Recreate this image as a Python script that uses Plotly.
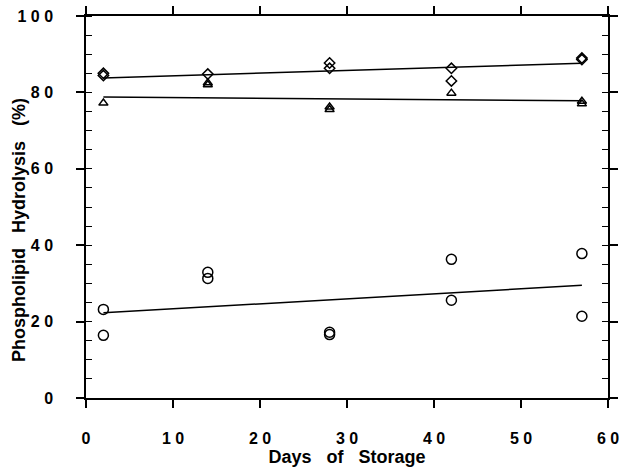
import plotly.graph_objects as go

# Data
days_diamond = [2, 2, 14, 28, 28, 42, 42, 57, 57]
val_diamond = [85.0, 84.4, 84.8, 87.7, 86.3, 86.3, 83.0, 89.0, 88.6]

days_triangle = [2, 14, 14, 28, 28, 42, 57, 57]
val_triangle = [77.2, 82.5, 82.0, 76.2, 75.5, 79.8, 77.7, 77.0]

days_circle = [2, 2, 14, 14, 28, 28, 42, 42, 57, 57]
val_circle = [23.2, 16.4, 32.9, 31.3, 17.2, 16.6, 36.3, 25.6, 37.8, 21.4]

# Regression lines as drawn (values at day 2 and day 57)
fit_days = [2, 57]
fit_diamond = [83.8, 87.6]
fit_triangle = [78.8, 77.8]
fit_circle = [22.3, 29.5]

x_ticks = [0, 10, 20, 30, 40, 50, 60]
x_labels = ["0", "1 0", "2 0", "3 0", "4 0", "5 0", "6 0"]
y_ticks = [0, 20, 40, 60, 80, 100]
y_labels = ["0", "2 0", "4 0", "6 0", "8 0", "1 0 0"]

fig = go.Figure()

for xs, ys, fy, sym, size in [
    (days_diamond, val_diamond, fit_diamond, "diamond-open", 8),
    (days_triangle, val_triangle, fit_triangle, "triangle-up-open", 8),
    (days_circle, val_circle, fit_circle, "circle-open", 10),
]:
    fig.add_trace(go.Scatter(x=fit_days, y=fy, mode="lines",
                             line=dict(color="black", width=1.5),
                             showlegend=False, hoverinfo="skip"))
    fig.add_trace(go.Scatter(x=xs, y=ys, mode="markers",
                             marker=dict(symbol=sym, size=size, color="black",
                                         line=dict(color="black", width=1.5)),
                             showlegend=False))

font_family = "Liberation Sans, Arial, sans-serif"

fig.update_layout(
    width=623, height=470,
    margin=dict(l=86, r=15, t=16, b=72),
    plot_bgcolor="white", paper_bgcolor="white",
    font=dict(family=font_family, color="black"),
    xaxis=dict(
        range=[0, 60], tickvals=x_ticks, ticktext=x_labels,
        automargin=False,
        showgrid=False, zeroline=False,
        showline=True, linecolor="black", linewidth=1.5, mirror="ticks",
        ticks="outside", ticklen=8, tickwidth=1.5, tickcolor="black",
        ticklabelstandoff=17,
        tickfont=dict(size=16, family=font_family, weight="bold"),
        title=dict(text="Days   of   Storage", standoff=3,
                   font=dict(size=18, family=font_family, weight="bold")),
    ),
    yaxis=dict(
        range=[0, 100], tickvals=y_ticks, ticktext=y_labels,
        automargin=False,
        showgrid=False, zeroline=False,
        showline=True, linecolor="black", linewidth=1.5, mirror="ticks",
        ticks="outside", ticklen=8, tickwidth=1.5, tickcolor="black",
        ticklabelstandoff=20,
        tickfont=dict(size=16, family=font_family, weight="bold"),
        minor=dict(dtick=5, ticks="inside", ticklen=6, tickwidth=1.2, tickcolor="black", showgrid=False),
    ),
    annotations=[dict(
        text="Phospholipid   Hydrolysis   (%)",
        xref="paper", yref="paper", x=-0.128, y=0.44,
        xanchor="center", yanchor="middle", textangle=-90, showarrow=False,
        font=dict(size=18, family=font_family, weight="bold", color="black"),
    )],
)

fig.write_html("out.html")
